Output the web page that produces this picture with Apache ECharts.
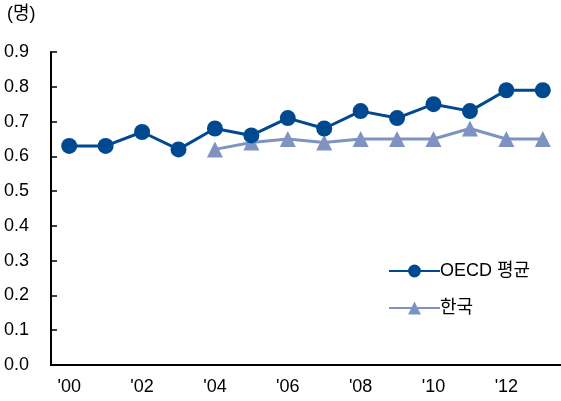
<!DOCTYPE html>
<html>
<head>
<meta charset="utf-8">
<script src="https://cdn.jsdelivr.net/npm/echarts@6/dist/echarts.min.js"></script>
<style>
  html, body { margin: 0; padding: 0; background: #fff; }
  #chart { width: 561px; height: 401px; }
</style>
</head>
<body>
<div id="chart"></div>
<script>
// Years 2000–2013, labelled every other year
const years = ["'00", "'01", "'02", "'03", "'04", "'05", "'06", "'07", "'08", "'09", "'10", "'11", "'12", "'13"];
const oecdAvg = [0.63, 0.63, 0.67, 0.62, 0.68, 0.66, 0.71, 0.68, 0.73, 0.71, 0.75, 0.73, 0.79, 0.79];
const korea = [null, null, null, null, 0.62, 0.64, 0.65, 0.64, 0.65, 0.65, 0.65, 0.68, 0.65, 0.65];
const seriesNames = ['OECD 평균', '한국'];
const unitLabel = '(명)';

const fontFamily = '"Liberation Sans Narrow", "Arial Narrow", "Liberation Sans", "Noto Sans CJK KR", sans-serif';
const chart = echarts.init(document.getElementById('chart'));

chart.setOption({
  animation: false,
  textStyle: { fontFamily: fontFamily },
  grid: { left: 51, right: 0, top: 52, bottom: 36, containLabel: false },
  graphic: [{
    type: 'text', left: 7, top: 5,
    style: { text: unitLabel, font: '18px ' + fontFamily, fill: '#000' }
  }],
  legend: {
    orient: 'vertical',
    left: 383, top: 257,
    itemWidth: 51, itemHeight: 16, itemGap: 19,
    textStyle: { fontSize: 18, color: '#000', fontFamily: fontFamily, padding: [0, 0, 0, -5] },
    data: seriesNames
  },
  xAxis: {
    type: 'category',
    data: years,
    boundaryGap: true,
    axisLine: { lineStyle: { color: '#000', width: 2 } },
    axisTick: { inside: true, length: 6, interval: 1, lineStyle: { color: '#000', width: 1.5 } },
    axisLabel: { interval: 1, color: '#000', fontSize: 18, margin: 13 }
  },
  yAxis: {
    type: 'value',
    min: 0, max: 0.9, interval: 0.1,
    splitLine: { show: false },
    axisLine: { show: true, lineStyle: { color: '#000', width: 2 } },
    axisTick: { show: true, inside: true, length: 6, lineStyle: { color: '#000', width: 1.5 } },
    axisLabel: { color: '#000', fontSize: 18, margin: 22, formatter: v => v.toFixed(1) }
  },
  series: [
    {
      name: seriesNames[0], type: 'line', data: oecdAvg,
      symbol: 'circle', symbolSize: 16,
      lineStyle: { color: '#004990', width: 3 },
      itemStyle: { color: '#004990' },
      z: 3
    },
    {
      name: seriesNames[1], type: 'line', data: korea,
      symbol: 'triangle', symbolSize: 16,
      lineStyle: { color: '#7e93c1', width: 3 },
      itemStyle: { color: '#7e93c1' },
      z: 2
    }
  ]
});
</script>
</body>
</html>
